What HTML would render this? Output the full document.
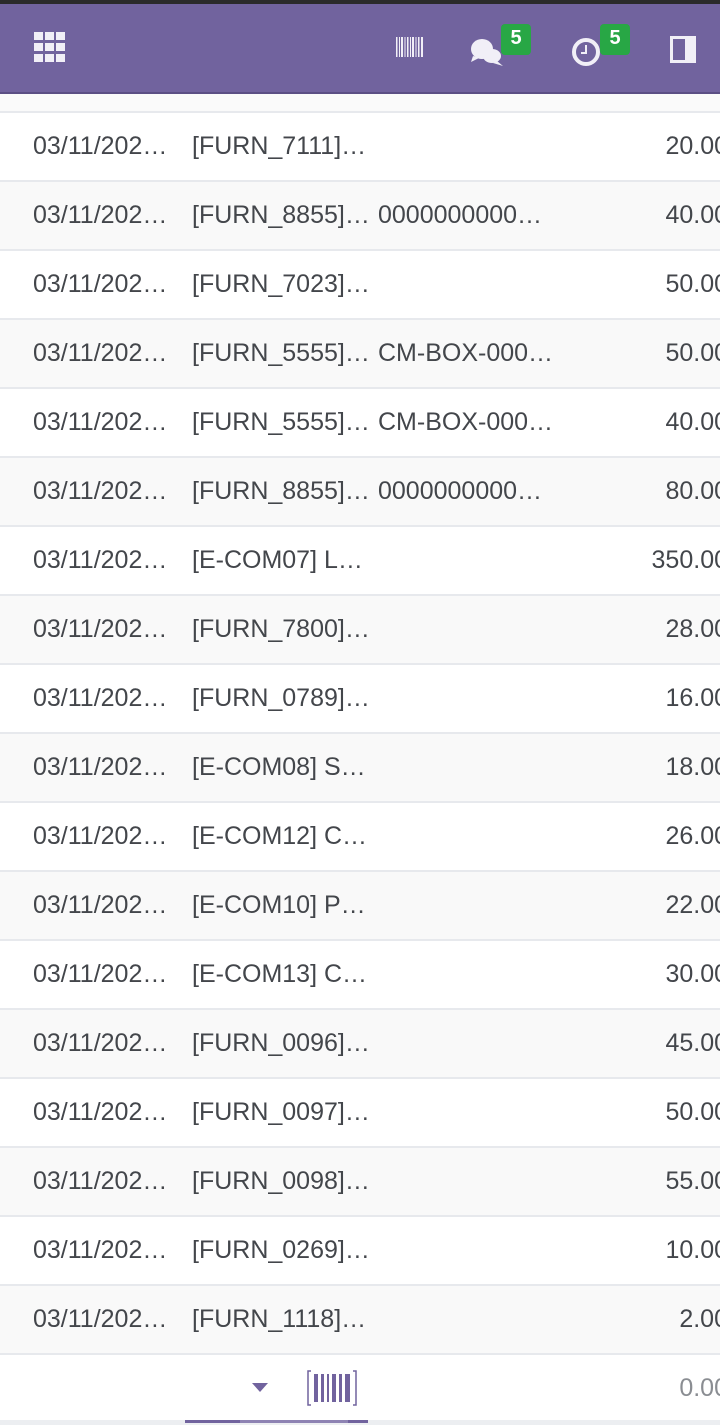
<!DOCTYPE html>
<html><head><meta charset="utf-8">
<style>
html,body{margin:0;padding:0;}
body{width:720px;height:1425px;overflow:hidden;background:#fff;font-family:"Liberation Sans",sans-serif;position:relative;}
.top{position:absolute;left:0;top:0;width:720px;height:4px;background:#2b2b2b;}
.nav{position:absolute;left:0;top:4px;width:720px;height:88px;background:#71639e;border-bottom:2px solid #5b4f84;}
.icon{position:absolute;}
.badge{position:absolute;background:#28a745;color:#fff;font-size:20px;font-weight:bold;width:30px;height:31px;border-radius:4px;text-align:center;line-height:28px;}
.sub{position:absolute;left:0;top:94px;width:720px;height:17px;background:#fafafa;border-bottom:2px solid #e7e9ed;}
.row{position:absolute;left:0;width:720px;height:67px;border-bottom:2px solid #e7e9ed;color:#43464b;font-size:25px;line-height:67px;overflow:hidden;}
.row span{position:absolute;top:0;white-space:nowrap;}
.c1{left:33px;}.c2{left:192px;}.c3{left:378px;}
.c4{right:-8px;}
</style></head><body>
<div class="top"></div>
<div class="nav">
  <svg class="icon" style="left:34px;top:28px" width="31" height="31" viewBox="0 0 31 31" fill="#f1eff7">
    <rect x="0" y="0" width="9" height="8"/><rect x="11" y="0" width="9" height="8"/><rect x="22" y="0" width="9" height="8"/>
    <rect x="0" y="11" width="9" height="8"/><rect x="11" y="11" width="9" height="8"/><rect x="22" y="11" width="9" height="8"/>
    <rect x="0" y="22" width="9" height="8"/><rect x="11" y="22" width="9" height="8"/><rect x="22" y="22" width="9" height="8"/>
  </svg>
  <svg class="icon" style="left:396px;top:33px" width="27" height="20" viewBox="0 0 27 20" fill="#f1eff7">
    <rect x="0" width="1.5" height="20"/><rect x="3" width="1" height="20"/><rect x="5" width="2" height="20"/><rect x="8.5" width="1" height="20"/><rect x="11" width="1.5" height="20"/><rect x="14" width="1" height="20"/><rect x="16" width="2" height="20"/><rect x="19.5" width="1" height="20"/><rect x="22" width="1.5" height="20"/><rect x="25" width="2" height="20"/>
  </svg>
  <svg class="icon" style="left:469px;top:32px" width="36" height="32" viewBox="0 0 36 32" fill="#f1eff7">
    <ellipse cx="13" cy="13" rx="11" ry="10"/><path d="M4 20 L2 26 L10 22Z"/><ellipse cx="23" cy="20" rx="9" ry="7"/><path d="M28 25 L34 30 L24 27Z"/>
  </svg>
  <div class="badge" style="left:501px;top:20px">5</div>
  <svg class="icon" style="left:571px;top:32px" width="32" height="32" viewBox="0 0 32 32">
    <circle cx="15" cy="16" r="12" fill="none" stroke="#f1eff7" stroke-width="4"/><path d="M15 9 V17 H10" fill="none" stroke="#f1eff7" stroke-width="2"/>
  </svg>
  <div class="badge" style="left:600px;top:20px">5</div>
  <svg class="icon" style="left:670px;top:32px" width="26" height="27" viewBox="0 0 26 27">
    <rect x="1.5" y="1.5" width="23" height="24" fill="none" stroke="#f1eff7" stroke-width="3"/><rect x="15" y="1" width="10" height="25" fill="#f1eff7"/>
  </svg>
</div>
<div class="sub"></div>
<div id="rows"></div>
<div class="row" style="top:1356px;height:64px;line-height:64px;border-bottom:none;background:#fff">
  <svg class="icon" style="left:251px;top:27px" width="18" height="10" viewBox="0 0 18 10"><path d="M1 0 H17 L9 9Z" fill="#71639e"/></svg>
  <svg class="icon" style="left:307px;top:14px" width="50" height="36" viewBox="0 0 50 36" fill="#71639e">
    <path d="M4 1 H1 V35 H4" fill="none" stroke="#71639e" stroke-width="1.5"/><path d="M46 1 H49 V35 H46" fill="none" stroke="#71639e" stroke-width="1.5"/>
    <rect x="7" y="4" width="4" height="28"/><rect x="14" y="4" width="3" height="28"/><rect x="20" y="4" width="2" height="28"/><rect x="25" y="4" width="4" height="28"/><rect x="32" y="4" width="3" height="28"/><rect x="38" y="4" width="5" height="28"/>
  </svg>
  <span class="c4" style="color:#8a8d92">0.00</span>
</div>
<div style="position:absolute;left:0;top:1420px;width:720px;height:5px;background:#eceef1"></div>
<div style="position:absolute;left:185px;top:1420px;width:183px;height:3px;background:#71639e"></div>
<div style="position:absolute;left:240px;top:1420px;width:108px;height:3px;background:#8e83b3"></div>
<script>
const dates=["03/11/202…","03/11/202…","03/11/202…","03/11/202…","03/11/202…","03/11/202…","03/11/202…","03/11/202…","03/11/202…","03/11/202…","03/11/202…","03/11/202…","03/11/202…","03/11/202…","03/11/202…","03/11/202…","03/11/202…","03/11/202…"];
const products=["[FURN_7111]…","[FURN_8855]…","[FURN_7023]…","[FURN_5555]…","[FURN_5555]…","[FURN_8855]…","[E-COM07] L…","[FURN_7800]…","[FURN_0789]…","[E-COM08] S…","[E-COM12] C…","[E-COM10] P…","[E-COM13] C…","[FURN_0096]…","[FURN_0097]…","[FURN_0098]…","[FURN_0269]…","[FURN_1118]…"];
const lots=["","0000000000…","","CM-BOX-000…","CM-BOX-000…","0000000000…","","","","","","","","","","","",""];
const qtys=["20.00","40.00","50.00","50.00","40.00","80.00","350.00","28.00","16.00","18.00","26.00","22.00","30.00","45.00","50.00","55.00","10.00","2.00"];
const host=document.getElementById('rows');
for(let i=0;i<dates.length;i++){
  const r=document.createElement('div');
  r.className='row';
  
  
  r.style.top=(113+i*69)+'px';
  r.style.background=(i%2===1)?'#f9f9f9':'#fff';
  const vals=[dates[i],products[i],lots[i],qtys[i]];
  const names=['date-cell','product-cell','lot-cell','quantity-cell'];
  for(let j=0;j<4;j++){
    const s=document.createElement('span');
    s.className='c'+(j+1);
    
    
    s.textContent=vals[j];
    r.appendChild(s);
  }
  host.appendChild(r);
}
</script>
</body></html>
